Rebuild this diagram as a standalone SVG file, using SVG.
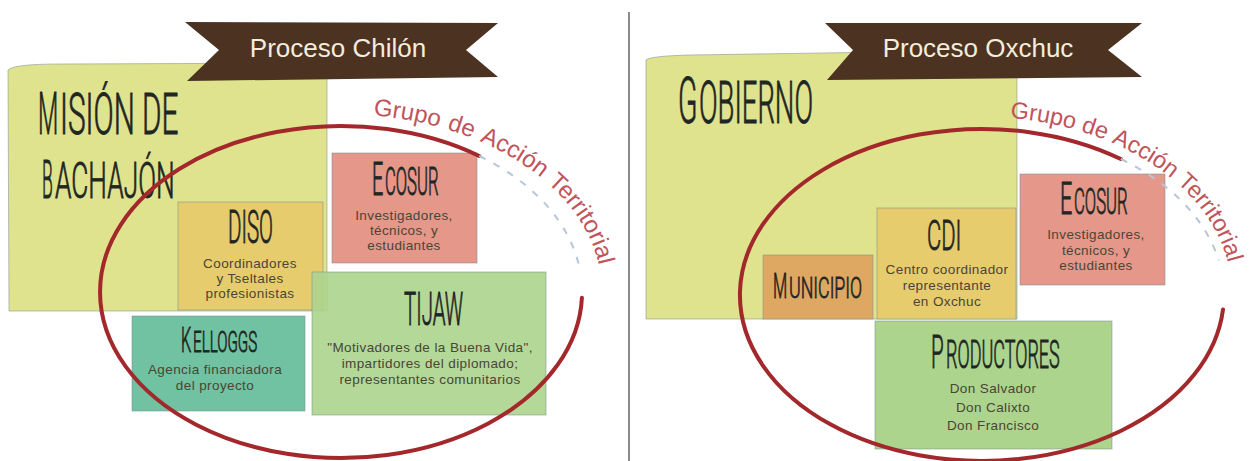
<svg xmlns="http://www.w3.org/2000/svg" width="1250" height="461" viewBox="0 0 1250 461">
<style>
.t{font-family:Roboto,"Liberation Sans Narrow","Liberation Sans",sans-serif;font-weight:300;fill:#1f2624;stroke:#1f2624;stroke-width:0.7;vector-effect:non-scaling-stroke}
.s{font-family:"Liberation Sans",Arial,sans-serif;font-size:13.5px;letter-spacing:0.4px;fill:#4a4535;text-anchor:middle}
.b{font-family:"Liberation Sans",Arial,sans-serif;font-size:26px;fill:#f4ecdc;text-anchor:middle}
.g{font-family:"Liberation Sans",Arial,sans-serif;font-size:24px;fill:#c0545a}
.g2{font-family:"Liberation Sans",Arial,sans-serif;font-size:23.5px;fill:#c0545a}
.bx{stroke:#7d9090;stroke-opacity:0.55;stroke-width:1}
.ring{fill:none;stroke:#a3282b;stroke-width:4;stroke-linecap:round}
.fade{fill:none;stroke:#b9c6d6;stroke-width:2;stroke-dasharray:7 9}
.ban{fill:#4b3221}
</style>
<defs>
<path id="arcL" d="M373.3,115.4 A261,178 0 0 1 602,292"/>
<path id="arcR" d="M1010,118 A250,177 0 0 1 1232,294"/>
</defs>
<rect width="1250" height="461" fill="#ffffff"/>
<line x1="629" y1="12" x2="629" y2="461" stroke="#8a8a8a" stroke-width="2"/>

<!-- LEFT PANEL -->
<g id="mision">
<path class="bx" d="M8,70 Q14,64 60,64 L327,63 L327,311 L9,311 Z" fill="#dfe38d"/>
<text class="t" font-size="60" transform="translate(38,134) scale(0.391,1)">M</text>
<text class="t" font-size="57" transform="translate(60,134) scale(0.522,1)">ISIÓN DE</text>
<text class="t" font-size="53" transform="translate(42,198) scale(0.333,1)">B</text>
<text class="t" font-size="50" transform="translate(55,198) scale(0.526,1)">ACHAJÓN</text>
</g>
<g id="diso">
<rect class="bx" x="178" y="202" width="145" height="108" fill="#e7cc6d"/>
<text class="t" font-size="47" transform="translate(228,243) scale(0.437,1)">DISO</text>
<text class="s" x="250" y="268">Coordinadores</text>
<text class="s" x="250" y="283.2">y Tseltales</text>
<text class="s" x="250" y="298.4">profesionistas</text>
</g>
<g id="ecosur1">
<rect class="bx" x="332" y="153" width="145" height="110" fill="#e59789"/>
<text class="t" font-size="46" transform="translate(372,195) scale(0.431,1)">E</text>
<text class="t" font-size="38" transform="translate(385,195) scale(0.439,1)">COSUR</text>
<text class="s" x="404" y="220">Investigadores,</text>
<text class="s" x="404" y="235.2">técnicos, y</text>
<text class="s" x="404" y="250.4">estudiantes</text>
</g>
<g id="kelloggs">
<rect class="bx" x="132" y="316" width="173" height="95" fill="#70c2a2"/>
<text class="t" font-size="35" transform="translate(181,352) scale(0.465,1)">K</text>
<text class="t" font-size="30" transform="translate(193,352) scale(0.506,1)">ELLOGGS</text>
<text class="s" x="215" y="374">Agencia financiadora</text>
<text class="s" x="215" y="389.5">del proyecto</text>
</g>
<g id="tijaw">
<rect class="bx" x="312" y="272" width="234" height="143" fill="#acd48d" fill-opacity="0.9"/>
<text class="t" font-size="46" transform="translate(404,325) scale(0.444,1)">TIJAW</text>
<text class="s" x="430" y="352">"Motivadores de la Buena Vida",</text>
<text class="s" x="430" y="368">impartidores del diplomado;</text>
<text class="s" x="430" y="384">representantes comunitarios</text>
</g>

<!-- RIGHT PANEL -->
<g id="gobierno">
<path class="bx" d="M646,60 Q650,56 690,55 L1017,50 L1017,319 L646,319 Z" fill="#dfe38d"/>
<text class="t" font-size="65" transform="translate(678,123) scale(0.438,1)">G</text>
<text class="t" font-size="60" transform="translate(699,123) scale(0.458,1)">OBIERNO</text>
</g>
<g id="municipio">
<rect class="bx" x="763" y="255" width="110" height="64" fill="#dfa862"/>
<text class="t" font-size="35" transform="translate(773,298) scale(0.47,1)">M</text>
<text class="t" font-size="30" transform="translate(789,298) scale(0.593,1)">UNICIPIO</text>
</g>
<g id="cdi">
<rect class="bx" x="877" y="208" width="139" height="111" fill="#e7cc6d"/>
<text class="t" font-size="42" transform="translate(927,250) scale(0.522,1)">CDI</text>
<text class="s" x="947" y="274">Centro coordinador</text>
<text class="s" x="947" y="290">representante</text>
<text class="s" x="947" y="306">en Oxchuc</text>
</g>
<g id="ecosur2">
<rect class="bx" x="1020" y="174" width="145" height="111" fill="#e59789"/>
<text class="t" font-size="45" transform="translate(1060,214) scale(0.48,1)">E</text>
<text class="t" font-size="37" transform="translate(1074,214) scale(0.451,1)">COSUR</text>
<text class="s" x="1096" y="239">Investigadores,</text>
<text class="s" x="1096" y="254.5">técnicos, y</text>
<text class="s" x="1096" y="270">estudiantes</text>
</g>
<g id="productores">
<rect class="bx" x="875" y="321" width="237" height="128" fill="#acd48d"/>
<text class="t" font-size="46" transform="translate(931,368) scale(0.448,1)">P</text>
<text class="t" font-size="39" transform="translate(946,368) scale(0.462,1)">RODUCTORES</text>
<text class="s" x="993" y="393">Don Salvador</text>
<text class="s" x="993" y="411.5">Don Calixto</text>
<text class="s" x="993" y="430">Don Francisco</text>
</g>

<!-- Grupo de Acción Territorial rings -->
<g id="connectors">
<path class="ring" d="M581.9,297.8 A241,166 0 1 1 479.2,156"/>
<path class="fade" d="M479.2,156 A241,166 0 0 1 579.7,268.9"/>
<path class="ring" d="M1223,309.5 A242,166 0 1 1 1120.8,159"/>
<path class="fade" d="M1120.8,159 A242,166 0 0 1 1218.7,260.5"/>
</g>
<g id="grupo-left">
<text class="g"><textPath href="#arcL" startOffset="0">Grupo</textPath></text>
<text class="g"><textPath href="#arcL" startOffset="74.8">de</textPath></text>
<text class="g"><textPath href="#arcL" startOffset="109.6">Acción</textPath></text>
<text class="g"><textPath href="#arcL" startOffset="189.7">Territorial</textPath></text>
</g>
<g id="grupo-right">
<text class="g2"><textPath href="#arcR" startOffset="0">Grupo</textPath></text>
<text class="g2"><textPath href="#arcR" startOffset="71.9">de</textPath></text>
<text class="g2"><textPath href="#arcR" startOffset="104.6">Acción</textPath></text>
<text class="g2"><textPath href="#arcR" startOffset="181.6">Territorial</textPath></text>
</g>

<!-- Banners -->
<g id="banner-chilon">
<polygon class="ban" points="185,22 498,23 466,50 498,77 187,81 219,50"/>
<text class="b" x="338" y="57">Proceso Chilón</text>
</g>
<g id="banner-oxchuc">
<polygon class="ban" points="825,23 1142,23 1108,50 1142,77 827,80 853,50"/>
<text class="b" x="978" y="57">Proceso Oxchuc</text>
</g>
</svg>
